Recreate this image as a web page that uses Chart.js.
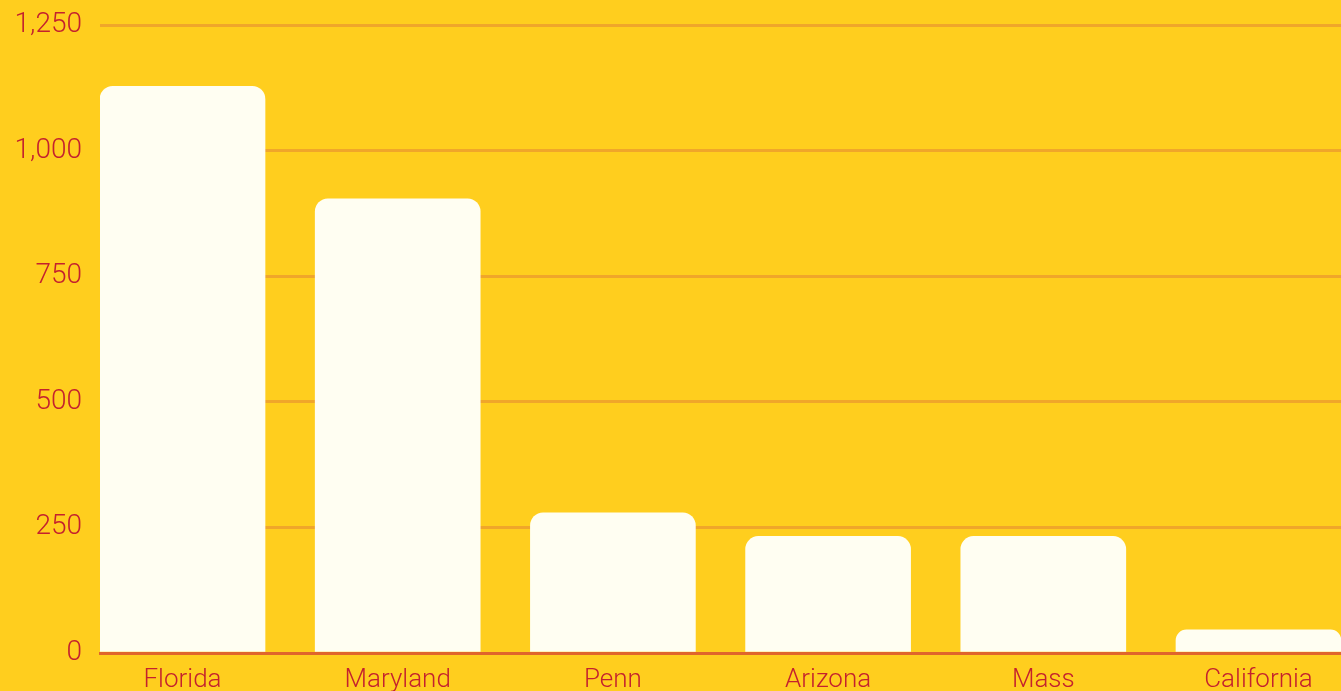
<!DOCTYPE html>
<html>
<head>
<meta charset="utf-8">
<script src="https://cdn.jsdelivr.net/npm/chart.js@4"></script>
<style>
  html, body { margin: 0; padding: 0; background: #FFCE1E; overflow: hidden; }
  #wrap { width: 1341px; height: 691px; }
</style>
</head>
<body>
<div id="wrap"><canvas id="chart_states"></canvas></div>
<script>
// ----------------------- data -----------------------
const states = ["Florida", "Maryland", "Penn", "Arizona", "Mass", "California"];
const counts = [1128, 904, 279, 232, 232, 46];
const yTicks = [0, 250, 500, 750, 1000, 1250];

// colours
const barWhite = "#FFFEF2";
const gridOrange = "#F0A62A";
const baseRed = "#E0652C";
const textRed = "#C4212E";

const fontFamily = "'Roboto', sans-serif";

const points = counts.map((v, i) => ({ x: i, y: v }));

const ctx = document.getElementById("chart_states");
new Chart(ctx, {
    type: "bar",
    data: {
        datasets: [{
            data: points,
            backgroundColor: barWhite,
            borderWidth: 0,
            borderRadius: 13,
            barThickness: 165,
        }]
    },
    options: {
        responsive: true,
        maintainAspectRatio: false,
        animation: false,
        layout: { padding: 0 },
        plugins: {
            legend: { display: false },
            tooltip: { enabled: false }
        },
        scales: {
            x: {
                type: "linear",
                offset: false,
                min: -0.3834,
                max: 5.3834,
                afterFit: axis => { axis.height = 38; },
                grid: { display: false, drawTicks: false },
                border: { display: true, color: baseRed, width: 3 },
                ticks: {
                    stepSize: 1,
                    includeBounds: false,
                    autoSkip: false,
                    maxRotation: 0,
                    padding: 12,
                    color: textRed,
                    font: { family: fontFamily, size: 26, weight: 300 },
                    callback: v => states[v] ?? ""
                }
            },
            y: {
                min: yTicks[0],
                max: yTicks[yTicks.length - 1],
                afterBuildTicks: axis => {
                    axis.ticks = yTicks.map(v => ({ value: v }));
                },
                afterFit: axis => { axis.width = 100; },
                grid: { color: gridOrange, lineWidth: 3, drawTicks: false },
                border: { display: false },
                ticks: {
                    padding: 18,
                    color: textRed,
                    font: { family: fontFamily, size: 28, weight: 300, lineHeight: 0.5 }
                }
            }
        }
    }
});
</script>
</body>
</html>
